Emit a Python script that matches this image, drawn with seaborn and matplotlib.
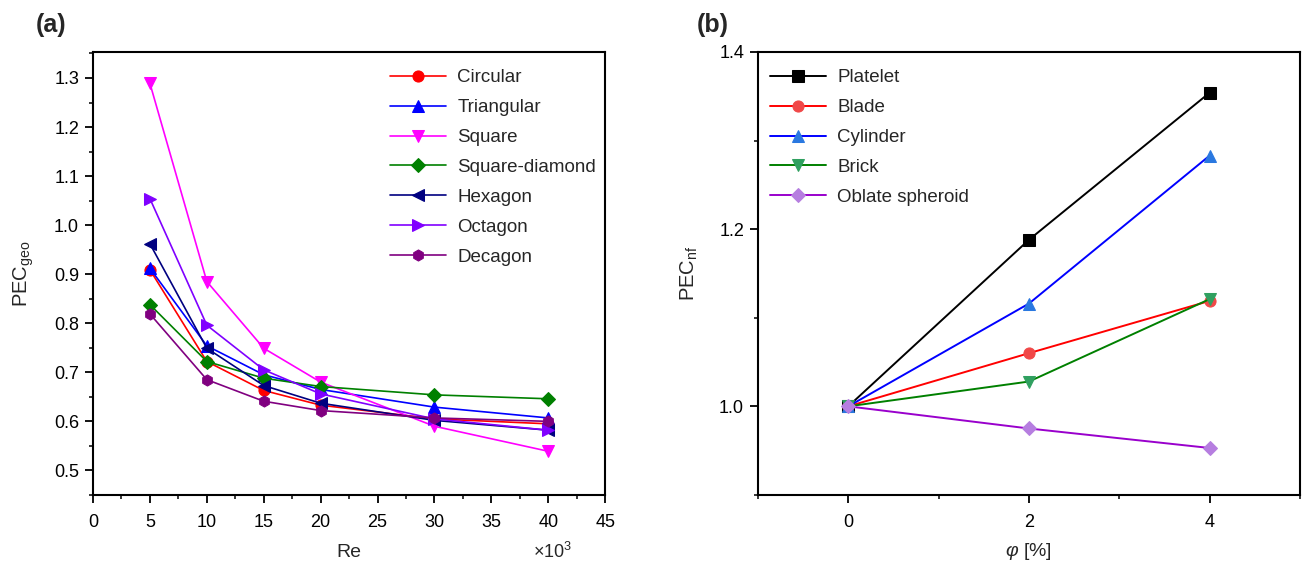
import numpy as np
import pandas as pd
import matplotlib
matplotlib.use('Agg')
import matplotlib.pyplot as plt
from matplotlib.ticker import MultipleLocator, FormatStrFormatter
import seaborn as sns

# panel (a): PEC_geo vs Re (x10^3)
re_values = [5, 10, 15, 20, 30, 40]
circular = [0.909, 0.722, 0.663, 0.633, 0.605, 0.595]
triangular = [0.912, 0.754, 0.695, 0.665, 0.629, 0.607]
square = [1.289, 0.885, 0.749, 0.680, 0.590, 0.539]
square_diamond = [0.838, 0.722, 0.688, 0.671, 0.654, 0.646]
hexagon = [0.962, 0.749, 0.673, 0.637, 0.602, 0.582]
octagon = [1.054, 0.796, 0.705, 0.656, 0.605, 0.582]
decagon = [0.819, 0.685, 0.641, 0.622, 0.607, 0.600]

# panel (b): PEC_nf vs volume fraction
phi_values = [0, 2, 4]
platelet = [1.0, 1.188, 1.354]
blade = [1.0, 1.060, 1.119]
cylinder = [1.0, 1.116, 1.283]
brick = [1.0, 1.028, 1.121]
oblate = [1.0, 0.975, 0.953]

sns.set_style('ticks')
plt.rcParams['font.family'] = ['Liberation Sans', 'DejaVu Sans']
plt.rcParams['mathtext.fontset'] = 'custom'
plt.rcParams['mathtext.rm'] = 'Liberation Sans'
plt.rcParams['mathtext.it'] = 'Liberation Sans:italic'
plt.rcParams['xtick.direction'] = 'out'
plt.rcParams['ytick.direction'] = 'out'

fig = plt.figure(figsize=(13.1, 5.65), dpi=100)
ax1 = fig.add_axes([0.071, 0.124, 0.391, 0.784])
ax2 = fig.add_axes([0.5786, 0.124, 0.4137, 0.784])

# (name, values, line colour, marker, marker colour)
series_a = [
    ('Circular', circular, '#ff0000', 'o', '#ff0000'),
    ('Triangular', triangular, '#0000ff', '^', '#0000ff'),
    ('Square', square, '#ff00ff', 'v', '#ff00ff'),
    ('Square-diamond', square_diamond, '#008000', 'D', '#008000'),
    ('Hexagon', hexagon, '#000080', '<', '#000080'),
    ('Octagon', octagon, '#8000ff', '>', '#8000ff'),
    ('Decagon', decagon, '#800080', 'h', '#800080'),
]
for name, vals, col, mk, mcol in series_a:
    df = pd.DataFrame({'Re': re_values, 'PEC': vals})
    sns.lineplot(data=df, x='Re', y='PEC', ax=ax1, color=col, marker=mk,
                 markerfacecolor=mcol, markeredgecolor=mcol, markersize=8 if mk != 'D' else 7,
                 linewidth=1.2, label=name)

series_b = [
    ('Platelet', platelet, '#000000', 's', '#000000'),
    ('Blade', blade, '#ff0000', 'o', '#f04848'),
    ('Cylinder', cylinder, '#0000ff', '^', '#2a78e0'),
    ('Brick', brick, '#008000', 'v', '#30a060'),
    ('Oblate spheroid', oblate, '#9900cc', 'D', '#b67ee0'),
]
for name, vals, col, mk, mcol in series_b:
    df = pd.DataFrame({'phi': phi_values, 'PEC': vals})
    sns.lineplot(data=df, x='phi', y='PEC', ax=ax2, color=col, marker=mk,
                 markerfacecolor=mcol, markeredgecolor=mcol, markersize=8 if mk != 'D' else 7,
                 linewidth=1.4, label=name)

for ax in (ax1, ax2):
    for sp in ax.spines.values():
        sp.set_visible(True)
        sp.set_linewidth(1.5)
        sp.set_color('black')
    ax.tick_params(which='major', length=6, width=1.3, labelsize=13, colors='black')
    ax.tick_params(which='minor', length=3, width=1.3)
    ax.tick_params(axis='x', which='major', pad=8)
    ax.tick_params(axis='y', which='major', pad=4)

ax1.set_xlim(0, 45)
ax1.set_ylim(0.45, 1.353)
ax1.xaxis.set_major_locator(MultipleLocator(5))
ax1.xaxis.set_minor_locator(MultipleLocator(2.5))
ax1.yaxis.set_major_locator(MultipleLocator(0.1))
ax1.yaxis.set_minor_locator(MultipleLocator(0.05))
ax1.set_xlabel('Re', fontsize=14, labelpad=9)
ax1.set_ylabel(r'PEC$_\mathregular{geo}$', fontsize=14.5, labelpad=13)
ax1.text(0.936, -0.129, r'×10$^\mathregular{3}$', transform=ax1.transAxes, ha='right', va='center', fontsize=13)
ax1.legend(loc='upper left', bbox_to_anchor=(0.565, 0.978), frameon=False, fontsize=13.5,
           handlelength=3.0, labelspacing=0.68, handletextpad=0.6, borderaxespad=0)

ax2.set_xlim(-1, 5)
ax2.set_ylim(0.9, 1.4)
ax2.xaxis.set_major_locator(MultipleLocator(2))
ax2.xaxis.set_minor_locator(MultipleLocator(1))
ax2.yaxis.set_major_locator(MultipleLocator(0.2))
ax2.yaxis.set_minor_locator(MultipleLocator(0.1))
ax2.yaxis.set_major_formatter(FormatStrFormatter('%.1f'))
ax2.set_xlabel(r'$\mathit{\varphi}$ [%]', fontsize=14, labelpad=7)
ax2.set_ylabel(r'PEC$_\mathregular{nf}$', fontsize=14.5, labelpad=14)
ax2.legend(loc='upper left', bbox_to_anchor=(0.008, 0.978), frameon=False, fontsize=13.5,
           handlelength=3.0, labelspacing=0.68, handletextpad=0.6, borderaxespad=0)

fig.text(0.027, 0.955, '(a)', fontsize=18, fontweight='bold', va='center')
fig.text(0.532, 0.955, '(b)', fontsize=18, fontweight='bold', va='center')

fig.savefig('out.png', dpi=100)
